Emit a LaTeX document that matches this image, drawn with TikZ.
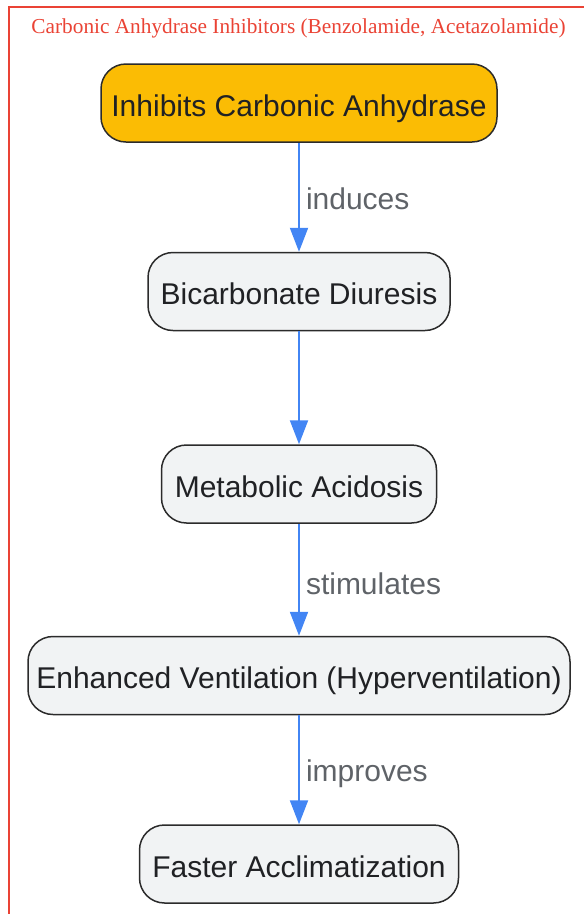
\documentclass[tikz,border=0pt]{standalone}
\usepackage{fontspec}
\setmainfont{Liberation Sans}
\newfontfamily\titlefont{Liberation Serif}
\usetikzlibrary{arrows.meta}
\definecolor{framered}{HTML}{EA4335}
\definecolor{boxfill}{HTML}{F1F3F4}
\definecolor{boxline}{HTML}{2B2B2B}
\definecolor{keyfill}{HTML}{FBBC04}
\definecolor{arrowblue}{HTML}{4285F4}
\definecolor{labelgrey}{HTML}{5F6368}
\definecolor{textdark}{HTML}{202124}
\begin{document}
\begin{tikzpicture}[x=1pt,y=-1pt,
  box/.style={draw=boxline, line width=1.5pt, rounded corners=25pt, fill=boxfill,
    minimum height=78pt, inner sep=0pt, text=textdark,
    text height=30pt, text depth=4pt,
    font=\fontsize{30}{34}\selectfont},
  keybox/.style={box, fill=keyfill},
  flow/.style={draw=arrowblue, line width=2pt,
    -{Triangle[length=24pt,width=18pt]}},
  edgelabel/.style={text=labelgrey, inner sep=0pt, anchor=west,
    text height=28pt, text depth=4pt,
    font=\fontsize{30}{34}\selectfont},
  titletext/.style={text=framered, inner sep=0pt,
    font=\titlefont\fontsize{21.3}{25}\selectfont}]
\useasboundingbox (0,0) rectangle (584,914);
\draw[framered, line width=2pt] (9,916) -- (9,7) -- (586,7);
\node[titletext] (title) at (298.5,28) {Carbonic Anhydrase Inhibitors (Benzolamide, Acetazolamide)};
\node[keybox, minimum width=396pt] (n1) at (299,103) {Inhibits Carbonic Anhydrase};
\node[box, minimum width=302pt] (n2) at (299,291.5) {Bicarbonate Diuresis};
\node[box, minimum width=275pt] (n3) at (299,484) {Metabolic Acidosis};
\node[box, minimum width=542pt] (n4) at (299,675.5) {Enhanced Ventilation (Hyperventilation)};
\node[box, minimum width=319pt] (n5) at (299,864) {Faster Acclimatization};
\draw[flow] (n1) -- (n2) node[midway, edgelabel, xshift=6pt] {induces};
\draw[flow] (n2) -- (n3);
\draw[flow] (n3) -- (n4) node[midway, edgelabel, xshift=6pt, yshift=-3pt] {stimulates};
\draw[flow] (n4) -- (n5) node[midway, edgelabel, xshift=6pt] {improves};
\end{tikzpicture}
\end{document}
